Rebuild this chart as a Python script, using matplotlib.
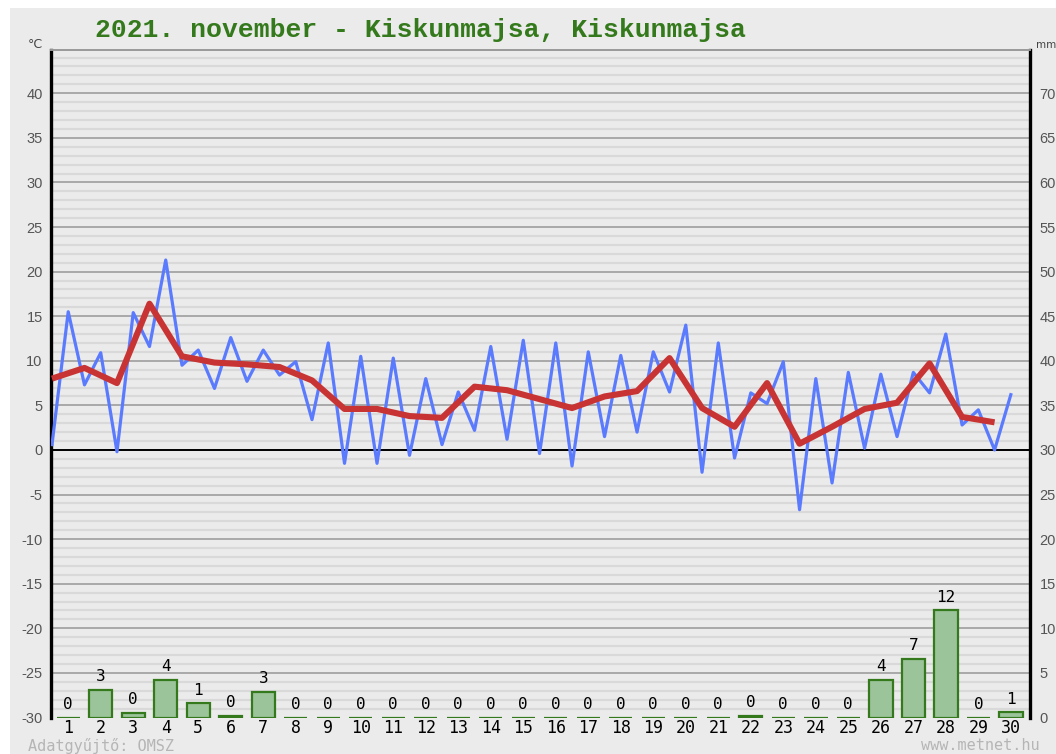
import matplotlib.pyplot as plt
import numpy as np
from matplotlib.patches import Rectangle

# --- adatok ---
napok = list(range(1, 31))
# félnapos hőmérséklet értékek (0.5 ... 30.0 nap)
homerseklet = [0.6, 15.5, 7.3, 10.9, -0.2, 15.4, 11.6, 21.3, 9.5, 11.2,
               6.9, 12.6, 7.7, 11.2, 8.4, 9.9, 3.4, 12.0, -1.5, 10.5,
               -1.5, 10.3, -0.6, 8.0, 0.6, 6.5, 2.2, 11.6, 1.2, 12.3,
               -0.4, 12.0, -1.8, 11.0, 1.5, 10.6, 2.0, 11.0, 6.5, 14.0,
               -2.5, 12.0, -0.9, 6.4, 5.2, 9.9, -6.7, 8.0, -3.7, 8.7,
               0.2, 8.5, 1.5, 8.7, 6.4, 13.0, 2.8, 4.5, 0.0, 6.2]
# napi középhőmérséklet (0.5 ... 29.5 nap)
kozep = [8.0, 9.2, 7.5, 16.4, 10.5, 9.8, 9.6, 9.3, 7.8, 4.6,
         4.6, 3.8, 3.6, 7.1, 6.7, 5.7, 4.7, 6.0, 6.6, 10.3,
         4.7, 2.6, 7.5, 0.7, 2.6, 4.6, 5.3, 9.7, 3.7, 3.1]
# csapadék mm
csapadek = [0, 3.1, 0.5, 4.2, 1.6, 0.2, 2.9, 0, 0, 0,
            0, 0, 0, 0, 0, 0, 0, 0, 0, 0,
            0, 0.2, 0, 0, 0, 4.2, 6.6, 12.0, 0, 0.6]
csapadek_felirat = ["0", "3", "0", "4", "1", "0", "3", "0", "0", "0",
                    "0", "0", "0", "0", "0", "0", "0", "0", "0", "0",
                    "0", "0", "0", "0", "0", "4", "7", "12", "0", "1"]

x_felnap = np.arange(1, 61) / 2
x_kozep = np.arange(30) + 0.5

hatter = "#ebebeb"
zold = "#347a1c"

fig = plt.figure(figsize=(10.56, 7.54), dpi=100, facecolor="white")
fig.patches.append(Rectangle((10 / 1056, 0), 1, 1 - 8 / 754, transform=fig.transFigure,
                             facecolor=hatter, edgecolor="none", zorder=-10))

ax = fig.add_axes([51 / 1056, 1 - 717.5 / 754, (1030 - 51) / 1056, (717.5 - 50) / 754])
ax.set_facecolor(hatter)
ax.set_xlim(0.47, 30.59)
ax.set_ylim(-30, 44.85)

# rács: halvány minden fokra, sötétebb 5 fokonként
for t in range(-29, 45):
    if t % 5 == 0:
        continue
    ax.axhline(t, color="#d9d9d9", lw=1.6, zorder=0)
for t in range(-25, 45, 5):
    ax.axhline(t, color="#a3a3a3", lw=1.3, zorder=0.5)
ax.axhline(0, color="black", lw=1.4, zorder=1)

ax.plot(x_felnap, homerseklet, color="#5b7bff", lw=2.3, zorder=3)
ax.plot(x_kozep, kozep, color="#c83434", lw=4.4, zorder=4, solid_capstyle="butt")

ax.set_yticks(range(-30, 45, 5))
ax.set_yticklabels([str(v) for v in range(-30, 45, 5)], fontsize=10.5,
                   color="#555555", family="Liberation Sans")
ax.set_xticks(napok)
ax.set_xticklabels([str(d) for d in napok], fontsize=12, family="DejaVu Sans Mono")
ax.tick_params(axis="both", length=0)
ax.tick_params(axis="y", pad=6)
ax.tick_params(axis="x", pad=1)

for s in ["left", "right"]:
    ax.spines[s].set_color("black")
    ax.spines[s].set_linewidth(2.4)
ax.spines["top"].set_color("#999999")
ax.spines["top"].set_linewidth(1.4)
ax.spines["bottom"].set_visible(False)

# csapadék a jobb tengelyen
ax2 = ax.twinx()
ax2.set_ylim(0, 74.85)
ax2.bar(napok, csapadek, width=0.72, color="#9cc49a", edgecolor=zold, lw=1.6, zorder=2)
for d, v, f in zip(napok, csapadek, csapadek_felirat):
    ax2.annotate(f, (d, v), xytext=(0, 4), textcoords="offset points",
                 ha="center", va="bottom", fontsize=11.5, family="DejaVu Sans Mono")
ax2.set_yticks(range(0, 75, 5))
ax2.set_yticklabels([str(v) for v in range(0, 75, 5)], fontsize=10.5,
                    color="#555555", family="Liberation Sans")
ax2.tick_params(axis="y", length=0, pad=7)
for s in ax2.spines.values():
    s.set_visible(False)

# feliratok
fig.text(95 / 1056, 1 - 30 / 754, "2021. november - Kiskunmajsa, Kiskunmajsa",
         fontsize=19, family="Liberation Mono", weight="bold", color=zold,
         ha="left", va="center")
fig.text(43 / 1056, 1 - 44 / 754, "°C", fontsize=9, color="#444444", ha="right", va="center")
fig.text(1036 / 1056, 1 - 45 / 754, "mm", fontsize=7.5, color="#444444", ha="left", va="center")
fig.text(28 / 1056, 1 - 746 / 754, "Adatgyűjtő: OMSZ", fontsize=11, family="DejaVu Sans Mono",
         color="#b5b5b5", ha="left", va="center")
fig.text(1040 / 1056, 1 - 746 / 754, "www.metnet.hu", fontsize=11, family="DejaVu Sans Mono",
         color="#b5b5b5", ha="right", va="center")

plt.savefig("out.png", dpi=100, facecolor=fig.get_facecolor())
